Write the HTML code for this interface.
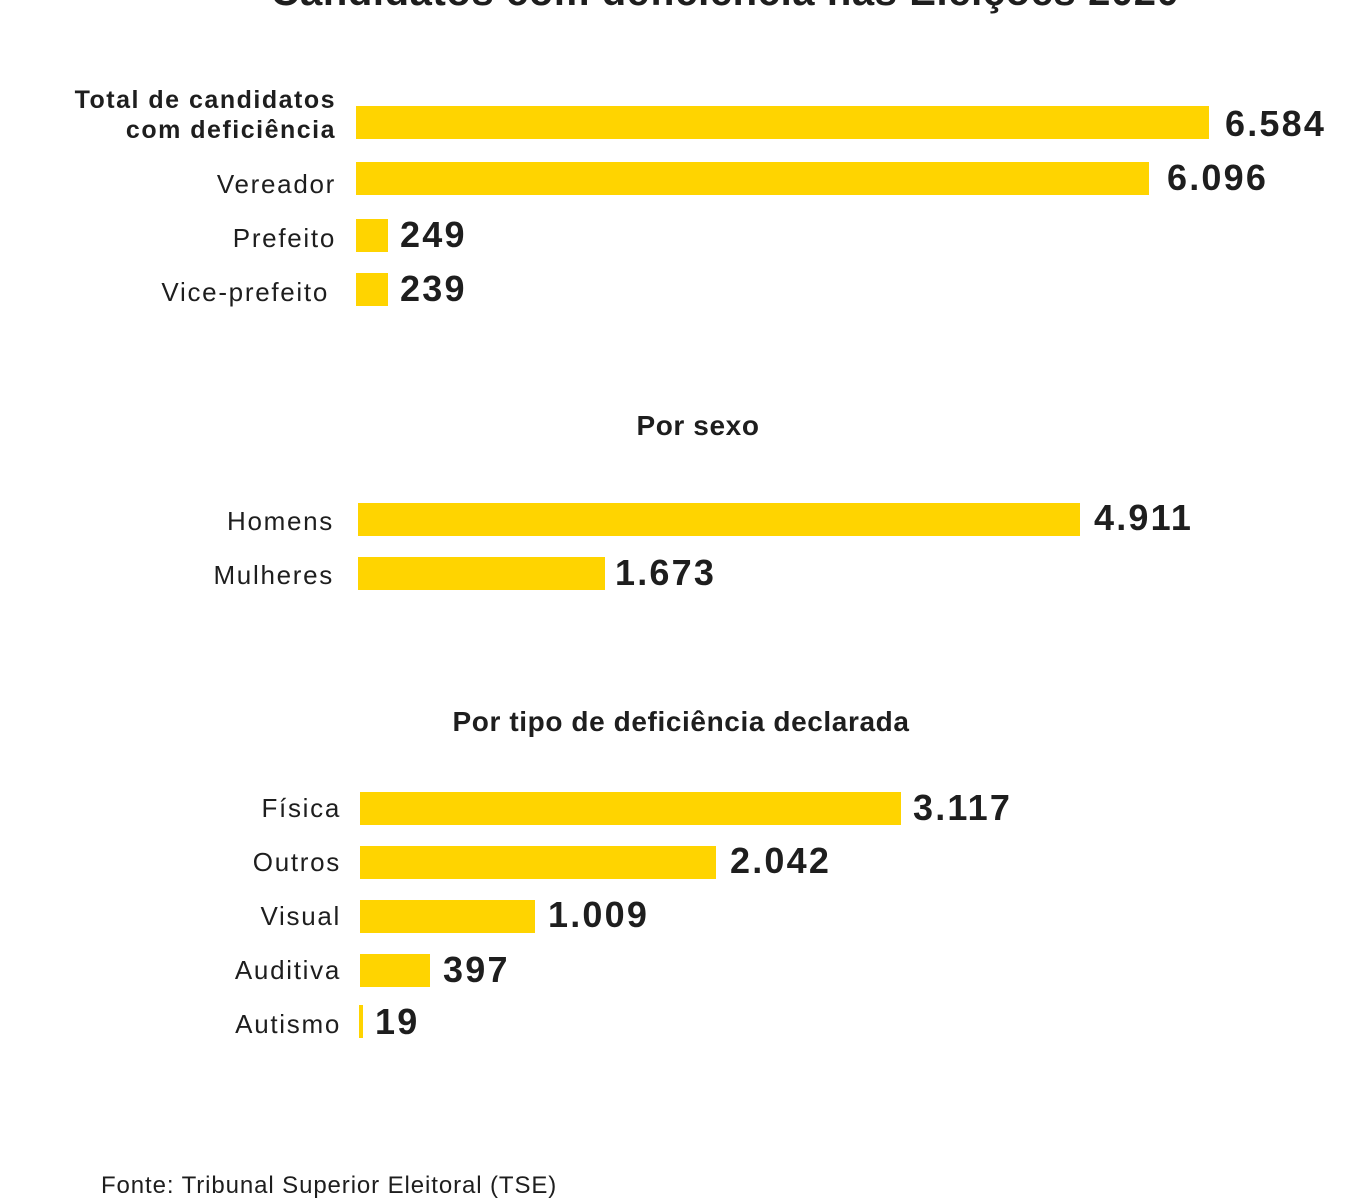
<!DOCTYPE html>
<html><head><meta charset="utf-8"><style>
body{margin:0;width:1366px;height:1200px;background:#fff;position:relative;overflow:hidden;font-family:"Liberation Sans",sans-serif;color:#1e1e1e}
.b{position:absolute;background:#FFD400;height:33px}
.l{position:absolute;text-align:right;font-size:26px;width:330px;line-height:30px;letter-spacing:1.7px;white-space:nowrap}
.v{position:absolute;font-weight:bold;font-size:36px;line-height:36px;letter-spacing:2.2px}
.h{position:absolute;font-weight:bold;font-size:28px;text-align:center;width:800px;letter-spacing:0.6px;white-space:nowrap}
</style></head><body>
<div class="h" style="left:125px;top:-28px;width:1200px;font-size:40px;line-height:40px;letter-spacing:0.6px">Candidatos com deficiência nas Eleições 2020</div>

<div class="l" style="left:6px;top:85px;font-weight:bold;font-size:25px;line-height:30px;letter-spacing:1.5px">Total de candidatos<br>com deficiência</div>
<div class="b" style="left:356px;top:106px;width:853px"></div><div class="v" style="left:1225px;top:106px">6.584</div>
<div class="l" style="left:6px;top:169px">Vereador</div>
<div class="b" style="left:356px;top:162px;width:793px"></div><div class="v" style="left:1167px;top:160px">6.096</div>
<div class="l" style="left:6px;top:223px">Prefeito</div>
<div class="b" style="left:356px;top:219px;width:32px"></div><div class="v" style="left:400px;top:217px">249</div>
<div class="l" style="left:-1px;top:277px">Vice-prefeito</div>
<div class="b" style="left:356px;top:273px;width:32px"></div><div class="v" style="left:400px;top:271px">239</div>

<div class="h" style="left:298px;top:410px">Por sexo</div>
<div class="l" style="left:4px;top:506px">Homens</div>
<div class="b" style="left:358px;top:503px;width:722px"></div><div class="v" style="left:1094px;top:500px">4.911</div>
<div class="l" style="left:4px;top:560px">Mulheres</div>
<div class="b" style="left:358px;top:557px;width:247px"></div><div class="v" style="left:615px;top:555px">1.673</div>

<div class="h" style="left:281px;top:706px">Por tipo de deficiência declarada</div>
<div class="l" style="left:11px;top:793px">Física</div>
<div class="b" style="left:360px;top:792px;width:541px"></div><div class="v" style="left:913px;top:790px">3.117</div>
<div class="l" style="left:11px;top:847px">Outros</div>
<div class="b" style="left:360px;top:846px;width:356px"></div><div class="v" style="left:730px;top:843px">2.042</div>
<div class="l" style="left:11px;top:901px">Visual</div>
<div class="b" style="left:360px;top:900px;width:175px"></div><div class="v" style="left:548px;top:897px">1.009</div>
<div class="l" style="left:11px;top:955px">Auditiva</div>
<div class="b" style="left:360px;top:954px;width:70px"></div><div class="v" style="left:443px;top:952px">397</div>
<div class="l" style="left:11px;top:1009px">Autismo</div>
<div class="b" style="left:359px;top:1005px;width:4px"></div><div class="v" style="left:375px;top:1004px">19</div>

<div style="position:absolute;left:101px;top:1172px;font-size:24px;letter-spacing:0.9px;white-space:nowrap">Fonte: Tribunal Superior Eleitoral (TSE)</div>
</body></html>
